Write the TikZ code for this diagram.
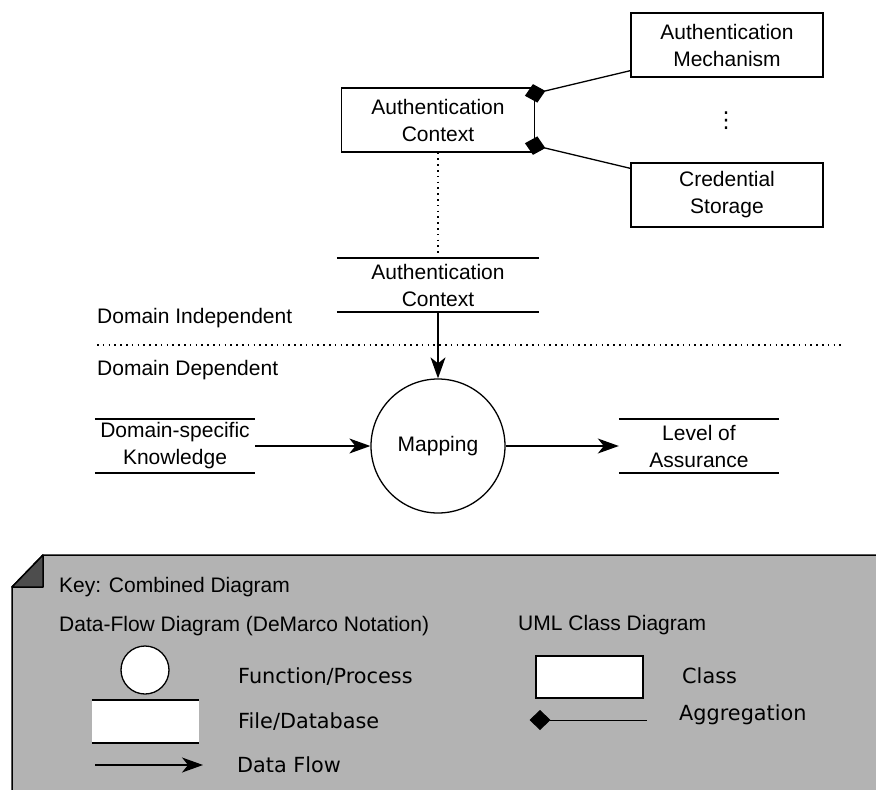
\documentclass[tikz,border=0pt]{standalone}
\usepackage{fontspec}
\setmainfont{Liberation Sans}
\newfontfamily\dejavu{DejaVu Sans}
\usetikzlibrary{arrows.meta,calc}
\definecolor{keygray}{HTML}{B3B3B3}
\definecolor{folddark}{HTML}{4D4D4D}
\begin{document}
\begin{tikzpicture}[x=1pt,y=-1pt,
  every node/.style={font=\fontsize{21}{27}\selectfont},
  classbox/.style={draw, line width=1.3pt, minimum width=192pt, minimum height=64pt, align=center, inner sep=0pt, fill=white},
  storeline/.style={draw, line width=2pt, -},
  store/.style={minimum width=#1, minimum height=54pt, inner sep=0pt, align=center,
    append after command={(\tikzlastnode.north west) edge[storeline] (\tikzlastnode.north east)
      (\tikzlastnode.south west) edge[storeline] (\tikzlastnode.south east)}},
  process/.style={draw, circle, line width=1.3pt, minimum size=134pt, inner sep=0pt},
  flow/.style={line width=1.3pt, -{Stealth[length=21pt,width=15pt,inset=6pt]}},
  agg/.style={line width=1.3pt, {Diamond[length=21pt,width=19pt]}-, shorten <=-10.5pt},
  dotline/.style={line width=1.5pt, dash pattern=on 1.5pt off 4.3pt},
  lefttext/.style={anchor=base west, inner sep=0pt},
  keytext/.style={anchor=base west, inner sep=0pt, font=\dejavu\fontsize{20.8}{25}\selectfont},
]
\useasboundingbox (0,0) rectangle (876,790);

% ---- class diagram part
\node[classbox] (mech) at (727,45) {Authentication\\Mechanism};
\node[classbox] (cred) at (727,195) {Credential\\Storage};
\node[classbox, minimum width=193pt] (ctx) at (438,120) {Authentication\\Context};
\node[font=\dejavu\fontsize{22}{24}\selectfont, inner sep=0pt] (vdots) at (726,121) {⋮};
\coordinate (dA) at ($(ctx.north east)+(0,6)$);
\coordinate (dB) at ($(ctx.south east)+(0,-7)$);
\draw[agg] (dA) -- ($(mech.south west)+(0,-7)$);
\draw[agg] (dB) -- ($(cred.north west)+(0,6)$);

% ---- data flow part
\node[store=202pt] (acs) at (438,285) {Authentication\\Context};
\node[process] (map) at (438,446) {Mapping};
\node[store=160pt] (dsk) at (175,446) {Domain-specific\\Knowledge};
\node[store=160pt] (loa) at (699,446) {Level of\\Assurance};
\node[lefttext] (di) at (97,323) {Domain Independent};
\node[lefttext] (dd) at (97,375) {Domain Dependent};
\coordinate (sepL) at (97,345);
\coordinate (sepR) at (842,345);
\draw[dotline] (sepL) -- (sepR);
\draw[dotline] (ctx.south) -- (acs.north);
\draw[flow] (acs.south) -- (map.north);
\draw[flow] (dsk) -- (map);
\draw[flow] (map) -- (loa);

% ---- key
\fill[keygray] (12,587) -- (43,555) -- (876,555) -- (876,790) -- (12,790) -- cycle;
\draw[line width=1.5pt] (12,790) -- (12,587) -- (43,555) -- (876,555);
\filldraw[fill=folddark, line width=1.5pt, line join=round] (43,555) -- (12,587) -- (43,587) -- cycle;

\node[lefttext] (ktitle) at (59,592) {Key: Combined Diagram};
\node[lefttext] (kdfd) at (59,631) {Data-Flow Diagram (DeMarco Notation)};
\node[lefttext] (kuml) at (518,630) {UML Class Diagram};

\node[draw, circle, fill=white, line width=1.3pt, minimum size=48pt, inner sep=0pt] (kproc) at (145,670) {};
\node[store=107pt, minimum height=43pt, fill=white] (kstore) at (145.5,721.5) {};
\coordinate (kfa) at (95,765);
\coordinate (kfb) at (203,765);
\draw[flow] (kfa) -- (kfb);
\node[keytext] (kproct) at (238,683) {Function/Process};
\node[keytext] (kstoret) at (238,728) {File/Database};
\node[keytext] (kflowt) at (237,772) {Data Flow};

\node[draw, fill=white, line width=1.5pt, minimum width=107pt, minimum height=42pt, inner sep=0pt] (kclass) at (589.5,677) {};
\node[keytext] (kclasst) at (682,683) {Class};
\coordinate (kaa) at (540,720);
\coordinate (kab) at (647,720);
\draw[line width=1pt, {Diamond[length=21pt,width=20pt]}-, shorten <=-10.5pt] (kaa) -- (kab);
\node[keytext] (kaggt) at (679,720) {Aggregation};
\end{tikzpicture}
\end{document}
